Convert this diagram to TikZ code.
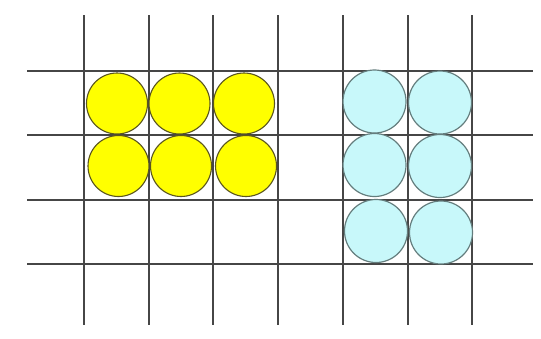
\documentclass[tikz,border=0pt]{standalone}
\definecolor{ballyellow}{RGB}{255,255,0}
\definecolor{yedge}{RGB}{90,85,30}
\definecolor{ballcyan}{RGB}{200,248,250}
\definecolor{cedge}{RGB}{100,125,125}
\definecolor{gridgray}{RGB}{70,70,70}
\begin{document}
\begin{tikzpicture}[x=1pt,y=-1pt,
  gridline/.style={draw=gridgray,line width=1.1pt},
  yball/.style={circle,draw=yedge,fill=ballyellow,line width=1.1pt,minimum size=61pt,inner sep=0pt},
  cball/.style={circle,draw=cedge,fill=ballcyan,line width=1.2pt,minimum size=63pt,inner sep=0pt}]
\fill[white] (0,0) rectangle (541,338);
\useasboundingbox (0,0) rectangle (541,338);
% vertical grid lines
\foreach \x in {84,149,213,278,343,408,472}
  \draw[gridline] (\x,15) -- (\x,325);
% horizontal grid lines
\foreach \y in {71,135,200,264}
  \draw[gridline] (27,\y) -- (533,\y);
% yellow balls
\node[yball] (y11) at (117,103.5) {};
\node[yball] (y12) at (179.5,103.5) {};
\node[yball] (y13) at (244,103.5) {};
\node[yball] (y21) at (118.5,166) {};
\node[yball] (y22) at (181,166) {};
\node[yball] (y23) at (246,166) {};
% cyan balls
\node[cball] (c11) at (374.5,101.5) {};
\node[cball] (c12) at (440,102.5) {};
\node[cball] (c21) at (374.5,165) {};
\node[cball] (c22) at (440,166) {};
\node[cball] (c31) at (376,231) {};
\node[cball] (c32) at (441,232.5) {};
\end{tikzpicture}
\end{document}
